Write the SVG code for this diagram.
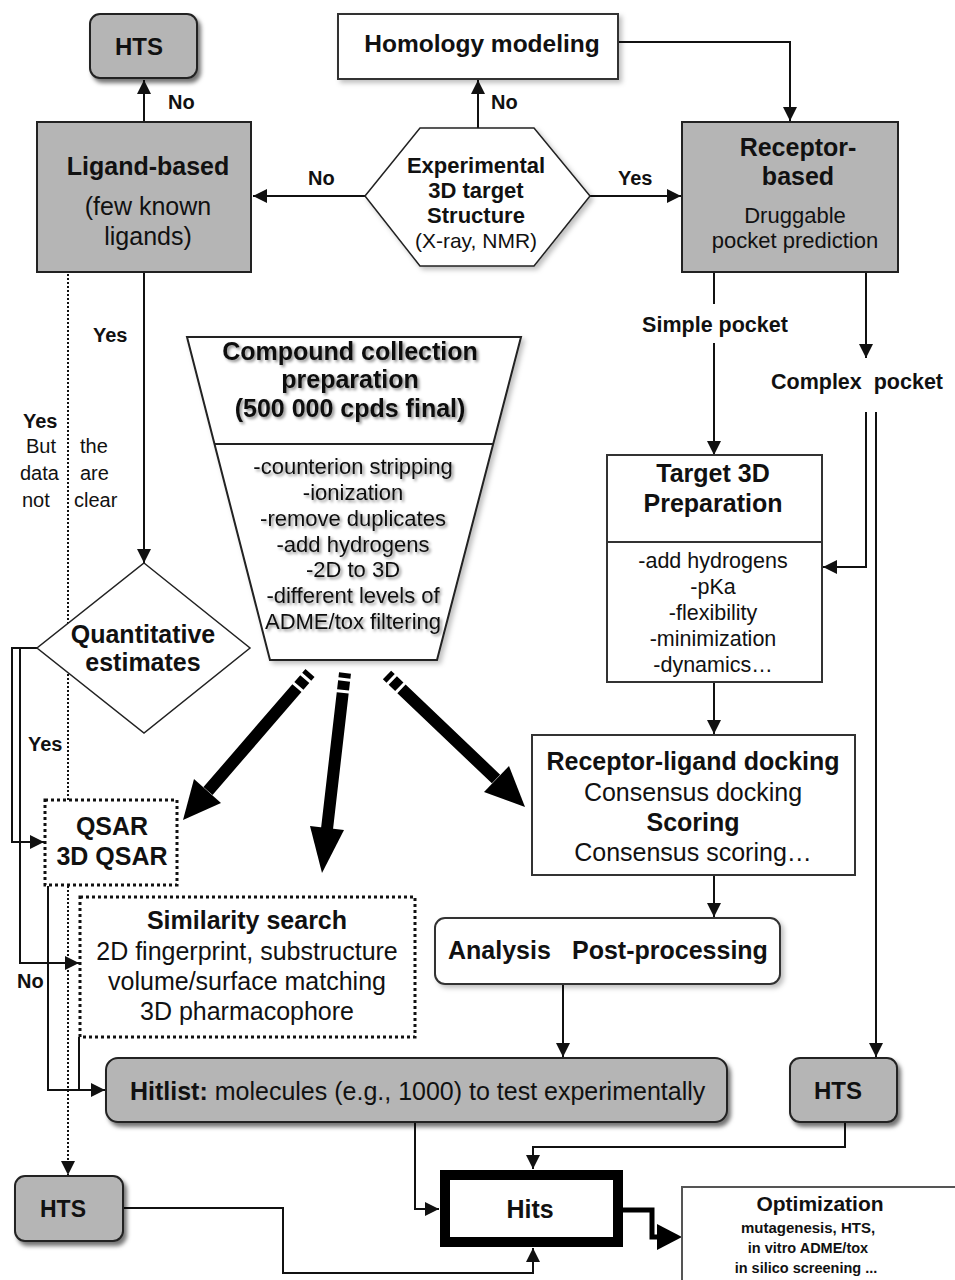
<svg xmlns="http://www.w3.org/2000/svg" width="955" height="1280" viewBox="0 0 955 1280">
<defs>
<style>
text{font-family:"Liberation Sans",Arial,sans-serif;fill:#111;}
.b{font-weight:bold;}
.c{text-anchor:middle;}
.gray{fill:#b5b5b5;stroke:#222;stroke-width:2;}
.white{fill:#fff;stroke:#333;stroke-width:2;}
.dot{fill:#fff;stroke:#111;stroke-width:3;stroke-dasharray:3 3;}
.ln{fill:none;stroke:#111;stroke-width:2;}
.arr{marker-end:url(#ah);}
.thick{fill:none;stroke:#000;stroke-width:12;stroke-dasharray:5 3 9 3 400;}
.f25{font-size:25px;}
.f24{font-size:24px;}
.f22{font-size:22px;}
.f21{font-size:21px;}
.f20{font-size:20px;}
</style>
<marker id="ah" markerUnits="userSpaceOnUse" markerWidth="14" markerHeight="14" viewBox="0 0 10 10" refX="10" refY="5" orient="auto">
<path d="M0,0 L10,5 L0,10 z" fill="#111"/>
</marker>
<filter id="sh" x="-10%" y="-10%" width="130%" height="140%">
<feDropShadow dx="3" dy="4" stdDeviation="2" flood-color="#000" flood-opacity="0.55"/>
</filter>
<filter id="shl" x="-10%" y="-10%" width="130%" height="140%">
<feDropShadow dx="3" dy="3" stdDeviation="2.5" flood-color="#000" flood-opacity="0.25"/>
</filter>
<filter id="ts" x="-10%" y="-20%" width="130%" height="160%">
<feDropShadow dx="2" dy="2" stdDeviation="1.5" flood-color="#000" flood-opacity="0.45"/>
</filter>
</defs>
<rect width="955" height="1280" fill="#fff"/>

<g id="connectors">
<line class="ln arr" x1="144" y1="122" x2="144" y2="80"/>
<line class="ln arr" x1="478" y1="128" x2="478" y2="80"/>
<line class="ln arr" x1="365" y1="196" x2="253" y2="196"/>
<line class="ln arr" x1="590" y1="196" x2="681" y2="196"/>
<polyline class="ln arr" points="618,42 790,42 790,121"/>
<line class="ln" x1="714" y1="272" x2="714" y2="304"/>
<line class="ln arr" x1="714" y1="343" x2="714" y2="455"/>
<line class="ln arr" x1="866" y1="272" x2="866" y2="358"/>
<polyline class="ln arr" points="866,412 866,567 823,567"/>
<line class="ln arr" x1="876" y1="412" x2="876" y2="1057"/>
<line class="ln arr" x1="714" y1="682" x2="714" y2="734"/>
<line class="ln arr" x1="714" y1="875" x2="714" y2="917"/>
<line class="ln arr" x1="563" y1="984" x2="563" y2="1057"/>
<line class="ln arr" x1="144" y1="272" x2="144" y2="563"/>
<line class="ln arr" x1="68" y1="274" x2="68" y2="1175" stroke-dasharray="2 2"/>
<polyline class="ln arr" points="37,648 12,648 12,842 44,842"/>
<polyline class="ln arr" points="20,648 20,963 79,963"/>
<polyline class="ln arr" points="48,886 48,1090 105,1090"/>
<line class="ln" x1="79" y1="1037" x2="79" y2="1090"/>
<polyline class="ln arr" points="415,1123 415,1209 439,1209"/>
<polyline class="ln arr" points="845,1123 845,1147 533,1147 533,1169"/>
<polyline class="ln arr" points="123,1208 283,1208 283,1273 533,1273 533,1248"/>
<polyline points="623,1210 652,1210 652,1237 660,1237" fill="none" stroke="#000" stroke-width="5"/>
<polygon points="657,1224 682,1237 657,1250" fill="#000"/>
<line class="thick" x1="310" y1="673" x2="208" y2="791"/>
<polygon points="183,820 194,779 221,803" fill="#000"/>
<line class="thick" x1="345" y1="673" x2="327" y2="829"/>
<polygon points="322,873 310,826 344,830" fill="#000"/>
<line class="thick" x1="387" y1="675" x2="496" y2="779"/>
<polygon points="525,807 484,792 509,766" fill="#000"/>
</g>

<g id="hts-top">
<rect x="90" y="14" width="107" height="64" rx="10" class="gray" filter="url(#sh)"/>
<text x="139" y="55" class="b c f24">HTS</text>
</g>
<text x="168" y="109" class="b f20">No</text>
<text x="491" y="109" class="b f20">No</text>
<text x="308" y="185" class="b f20">No</text>
<text x="618" y="185" class="b f20">Yes</text>

<g id="homology">
<rect x="338" y="14" width="280" height="65" class="white" filter="url(#shl)"/>
<text x="482" y="52" class="b c" font-size="24.5">Homology modeling</text>
</g>

<g id="ligand-based">
<rect x="37" y="122" width="214" height="150" class="gray"/>
<text x="148" y="175" class="b c f25">Ligand-based</text>
<text x="148" y="215" class="c f25">(few known</text>
<text x="148" y="245" class="c f25">ligands)</text>
</g>

<g id="experimental">
<polygon points="365,196 420,128 534,128 590,196 534,266 420,266" fill="#fff" stroke="#222" stroke-width="1.5" filter="url(#shl)"/>
<text x="476" y="173" class="b c f22">Experimental</text>
<text x="476" y="198" class="b c f22">3D target</text>
<text x="476" y="223" class="b c f22">Structure</text>
<text x="476" y="248" class="c f21">(X-ray, NMR)</text>
</g>

<g id="receptor-based">
<rect x="682" y="122" width="216" height="150" class="gray"/>
<text x="798" y="156" class="b c f25">Receptor-</text>
<text x="798" y="185" class="b c f25">based</text>
<text x="795" y="223" class="c f22">Druggable</text>
<text x="795" y="248" class="c f22">pocket prediction</text>
</g>

<text x="715" y="332" class="b c" font-size="21.5">Simple pocket</text>
<text x="857" y="389" class="b c" font-size="21.5" xml:space="preserve">Complex  pocket</text>

<g id="labels-left">
<text x="93" y="342" class="b f20">Yes</text>
<text x="23" y="428" class="b f20">Yes</text>
<text x="26" y="453" class="f20">But</text>
<text x="20" y="480" class="f20">data</text>
<text x="22" y="507" class="f20">not</text>
<text x="80" y="453" class="f20">the</text>
<text x="80" y="480" class="f20">are</text>
<text x="74" y="507" class="f20">clear</text>
<text x="28" y="751" class="b f20">Yes</text>
<text x="17" y="988" class="b f20">No</text>
</g>

<g id="compound-collection">
<polygon points="187,337 521,337 437,660 270,660" fill="#fff" stroke="#222" stroke-width="2" filter="url(#shl)"/>
<line x1="215" y1="444" x2="493" y2="444" stroke="#222" stroke-width="2"/>
<g filter="url(#ts)">
<text x="350" y="360" class="b c f25">Compound collection</text>
<text x="350" y="388" class="b c f25">preparation</text>
<text x="350" y="417" class="b c f25">(500 000 cpds final)</text>
<text x="353" y="474" class="c f22">-counterion stripping</text>
<text x="353" y="500" class="c f22">-ionization</text>
<text x="353" y="526" class="c f22">-remove duplicates</text>
<text x="353" y="552" class="c f22">-add hydrogens</text>
<text x="353" y="577" class="c f22">-2D to 3D</text>
<text x="353" y="603" class="c f22">-different levels of</text>
<text x="353" y="629" class="c f22">ADME/tox filtering</text>
</g>
</g>

<g id="quantitative">
<polygon points="144,563 250,648 144,733 37,648" fill="#fff" stroke="#222" stroke-width="1.5"/>
<text x="143" y="643" class="b c f25">Quantitative</text>
<text x="143" y="671" class="b c f25">estimates</text>
</g>

<g id="target-3d">
<rect x="607" y="455" width="215" height="227" fill="#fff" stroke="#333" stroke-width="2"/>
<line x1="607" y1="542" x2="822" y2="542" stroke="#333" stroke-width="2"/>
<text x="713" y="482" class="b c f25">Target 3D</text>
<text x="713" y="512" class="b c f25">Preparation</text>
<text x="713" y="568" class="c" font-size="21.5">-add hydrogens</text>
<text x="713" y="594" class="c" font-size="21.5">-pKa</text>
<text x="713" y="620" class="c" font-size="21.5">-flexibility</text>
<text x="713" y="646" class="c" font-size="21.5">-minimization</text>
<text x="713" y="672" class="c" font-size="21.5">-dynamics…</text>
</g>

<g id="docking">
<rect x="532" y="735" width="323" height="140" fill="#fff" stroke="#333" stroke-width="2"/>
<text x="693" y="770" class="b c f25">Receptor-ligand docking</text>
<text x="693" y="801" class="c f25">Consensus docking</text>
<text x="693" y="831" class="b c f25">Scoring</text>
<text x="693" y="861" class="c f25">Consensus scoring…</text>
</g>

<g id="qsar">
<rect x="45" y="800" width="132" height="85" class="dot"/>
<text x="112" y="835" class="b c f25">QSAR</text>
<text x="112" y="865" class="b c f25">3D QSAR</text>
</g>

<g id="similarity">
<rect x="80" y="897" width="335" height="140" class="dot"/>
<text x="247" y="929" class="b c f25">Similarity search</text>
<text x="247" y="960" class="c f25">2D fingerprint, substructure</text>
<text x="247" y="990" class="c f25">volume/surface matching</text>
<text x="247" y="1020" class="c f25">3D pharmacophore</text>
</g>

<g id="analysis">
<rect x="435" y="918" width="345" height="66" rx="10" fill="#fff" stroke="#333" stroke-width="2" filter="url(#shl)"/>
<text x="448" y="959" class="b f25">Analysis</text>
<text x="572" y="959" class="b f25">Post-processing</text>
</g>

<g id="hitlist">
<rect x="106" y="1058" width="621" height="64" rx="12" class="gray" filter="url(#sh)"/>
<text x="130" y="1100" class="f25"><tspan class="b">Hitlist:</tspan> molecules (e.g., 1000) to test experimentally</text>
</g>

<g id="hts-right">
<rect x="790" y="1058" width="107" height="64" rx="10" class="gray" filter="url(#sh)"/>
<text x="838" y="1099" class="b c f24">HTS</text>
</g>

<g id="hts-bottom">
<rect x="15" y="1176" width="108" height="65" rx="10" class="gray" filter="url(#sh)"/>
<text x="63" y="1217" class="b c" font-size="23">HTS</text>
</g>

<g id="hits">
<rect x="445" y="1175" width="173" height="67" fill="#fff" stroke="#000" stroke-width="10"/>
<text x="530" y="1218" class="b c f25">Hits</text>
</g>

<g id="optimization">
<rect x="682" y="1187" width="290" height="120" fill="#fff" stroke="#555" stroke-width="2"/>
<text x="820" y="1211" class="b c f21">Optimization</text>
<text x="808" y="1233" class="b c" font-size="15">mutagenesis, HTS,</text>
<text x="808" y="1253" class="b c" font-size="14.5">in vitro ADME/tox</text>
<text x="806" y="1273" class="b c" font-size="14.5">in silico screening ...</text>
</g>
</svg>
